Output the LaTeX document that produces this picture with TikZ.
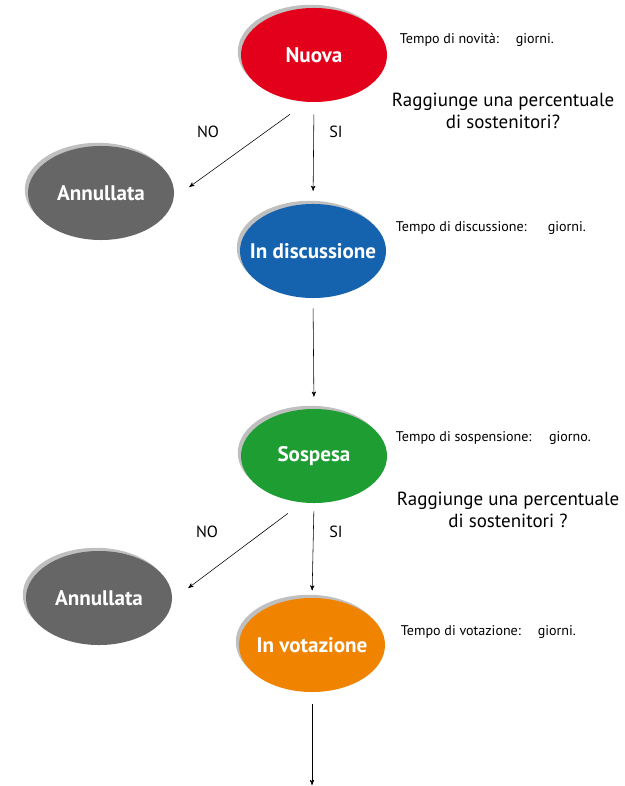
\documentclass[tikz,border=0pt]{standalone}
\usepackage{fontspec}
\setmainfont{PT Sans}
\usetikzlibrary{shapes.geometric, arrows, positioning, shadows}
\definecolor{rossonuova}{HTML}{E2001A}
\definecolor{bludisc}{HTML}{1563AE}
\definecolor{verdesosp}{HTML}{1E9E32}
\definecolor{aranciovot}{HTML}{F08400}
\definecolor{grigioann}{HTML}{666666}
\newcommand{\etichetta}[1]{\makebox[0pt]{#1}}

\begin{document}
\begin{tikzpicture}[x=0.025cm, y=-0.025cm,
        stato/.style={ellipse, minimum width=3.65cm, minimum height=2.35cm, inner sep=0pt, text=white, font=\bfseries\fontsize{15}{17}\selectfont, drop shadow={shadow xshift=-0.8mm, shadow yshift=0.8mm, fill=gray!50, opacity=1}},
        tempo/.style={anchor=west, font=\fontsize{10}{12}\selectfont},
        domanda/.style={align=center, font=\fontsize{13.5}{16}\selectfont},
        ramo/.style={font=\fontsize{11.5}{13}\selectfont},
        freccia/.style={->, >=stealth', thin}
    ]
        \useasboundingbox (0,0) rectangle (624,786);

        % Stati
        \node[stato, fill=rossonuova] (nuova) at (314,55) {\etichetta{Nuova}};
        \node[stato, fill=grigioann] (ann1) at (101,193) {\etichetta{Annullata}};
        \node[stato, fill=bludisc] (disc) at (313,251) {\etichetta{In discussione}};
        \node[stato, fill=verdesosp] (sosp) at (314,456) {\etichetta{Sospesa}};
        \node[stato, fill=grigioann] (ann2) at (99,598) {\etichetta{Annullata}};
        \node[stato, fill=aranciovot] (vot) at (312,645) {\etichetta{In votazione}};
        \coordinate (fine) at (312,785);

        % Tempi e domande
        \node[tempo] (tnov) at (395,40) {Tempo di novità:\hspace{1.2em}giorni.};
        \node[domanda] (dom1) at (503,111) {Raggiunge una percentuale\\di sostenitori?};
        \node[tempo] (tdisc) at (391,228) {Tempo di discussione:\hspace{1.5em}giorni.};
        \node[tempo] (tsosp) at (391,438) {Tempo di sospensione:\hspace{1.25em}giorno.};
        \node[domanda] (dom2) at (508,510) {Raggiunge una percentuale\\di sostenitori ?};
        \node[tempo] (tvot) at (396,632) {Tempo di votazione:\hspace{1.2em}giorni.};

        % Rami
        \node[ramo] (no1) at (208,132) {NO};
        \node[ramo] (si1) at (336,132) {SI};
        \node[ramo] (no2) at (207,532) {NO};
        \node[ramo] (si2) at (336,532) {SI};

        % Frecce
        \draw[freccia] ([xshift=-6mm,yshift=-3mm]nuova.south) -- ([xshift=3.75mm,yshift=1.5mm]ann1.east);
        \draw[freccia, shorten <=3mm, shorten >=3.2mm] (nuova.south) -- (disc.north);
        \draw[freccia, shorten <=2.5mm, shorten >=3mm] (disc.south) -- (sosp.north);
        \draw[freccia] ([xshift=-6.5mm,yshift=-2.5mm]sosp.south) -- ([xshift=4mm,yshift=2.5mm]ann2.east);
        \draw[freccia, shorten <=2mm, shorten >=1.8mm] (sosp.south) -- (vot.north);
        \draw[freccia, shorten <=3mm] (vot.south) -- (fine);

    \end{tikzpicture}
\end{document}
